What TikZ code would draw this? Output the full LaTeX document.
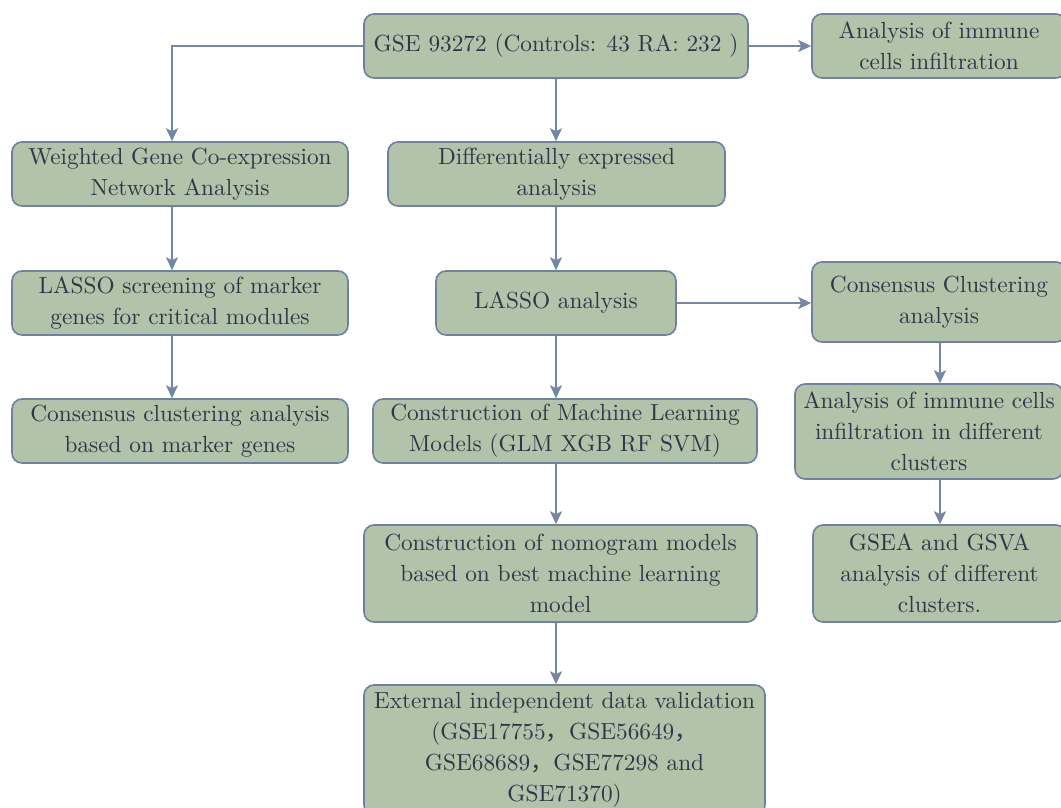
\documentclass[tikz,border=0pt]{standalone}
\usepackage{fontspec}
\setmainfont{lmroman10-regular}[Extension=.otf]
\newfontfamily\cjk{Noto Sans CJK SC}
\usetikzlibrary{arrows.meta}
\definecolor{boxfill}{RGB}{177,196,169}
\definecolor{boxdraw}{RGB}{112,128,160}
\definecolor{arrowcol}{RGB}{118,134,166}
\definecolor{textcol}{RGB}{50,52,74}
\tikzset{
  box/.style={draw=boxdraw, fill=boxfill, line width=1.6pt, rounded corners=10pt,
    align=center, inner xsep=0pt, inner ysep=0pt, text=textcol,
    font=\rmfamily\fontsize{23.3}{31}\selectfont},
  conn/.style={draw=arrowcol, line width=1.8pt,
    -{Stealth[length=13pt,width=12pt,inset=3pt]}},
}
\begin{document}
\begin{tikzpicture}[x=1pt,y=-1pt]
\clip (0,0) rectangle (1061,807);
\fill[white] (0,0) rectangle (1061,807);
\coordinate (lx) at (172,0);
\coordinate (mx) at (556,0);
\coordinate (rx) at (940,0);
\node[box, minimum width=384pt, minimum height=64pt] (gse) at (556,46) {GSE 93272 (Controls: 43 RA: 232 )};
\node[box, minimum width=254pt, minimum height=64pt] (imm) at (939,46) {Analysis of immune\\cells infiltration};
\node[box, minimum width=336pt, minimum height=64pt] (wgcna) at (180,174) {Weighted Gene Co-expression\\Network Analysis};
\node[box, minimum width=337pt, minimum height=64pt] (diff) at (556.5,174) {Differentially expressed\\analysis};
\node[box, minimum width=336pt, minimum height=64pt] (lscreen) at (180,303) {LASSO screening of marker\\genes for critical modules};
\node[box, minimum width=240pt, minimum height=64pt] (lasso) at (556,303) {LASSO analysis};
\node[box, minimum width=254pt, minimum height=80pt] (cc) at (939,302) {Consensus Clustering\\analysis};
\node[box, minimum width=336pt, minimum height=64pt] (cmark) at (180,431) {Consensus clustering analysis\\based on marker genes};
\node[box, minimum width=384pt, minimum height=64pt] (ml) at (565,431) {Construction of Machine Learning\\Models (GLM XGB RF SVM)};
\node[box, minimum width=268pt, minimum height=95pt] (ic) at (929,431.5) {Analysis of immune cells\\infiltration in different\\clusters};
\node[box, minimum width=393pt, minimum height=97pt] (nomo) at (560.5,573.5) {Construction of nomogram models\\based on best machine learning\\model};
\node[box, minimum width=253pt, minimum height=97pt] (gsea) at (939.5,573.5) {GSEA and GSVA\\analysis of different\\clusters.};
\node[box, minimum width=401pt, minimum height=130pt] (ext) at (564.5,750) {External independent data validation\\(GSE17755{\cjk ，}GSE56649{\cjk ，}\\GSE68689{\cjk ，}GSE77298 and\\GSE71370)};
\draw[conn] (gse.west) -| (wgcna.north -| lx);
\draw[conn] (gse.south -| mx) -- (diff.north -| mx);
\draw[conn] (gse.east) -- (imm.west);
\draw[conn] (wgcna.south -| lx) -- (lscreen.north -| lx);
\draw[conn] (lscreen.south -| lx) -- (cmark.north -| lx);
\draw[conn] (diff.south -| mx) -- (lasso.north -| mx);
\draw[conn] (lasso.east) -- (cc.west |- lasso.east);
\draw[conn] (lasso.south -| mx) -- (ml.north -| mx);
\draw[conn] (ml.south -| mx) -- (nomo.north -| mx);
\draw[conn] (nomo.south -| mx) -- (ext.north -| mx);
\draw[conn] (cc.south -| rx) -- (ic.north -| rx);
\draw[conn] (ic.south -| rx) -- (gsea.north -| rx);
\end{tikzpicture}
\end{document}
